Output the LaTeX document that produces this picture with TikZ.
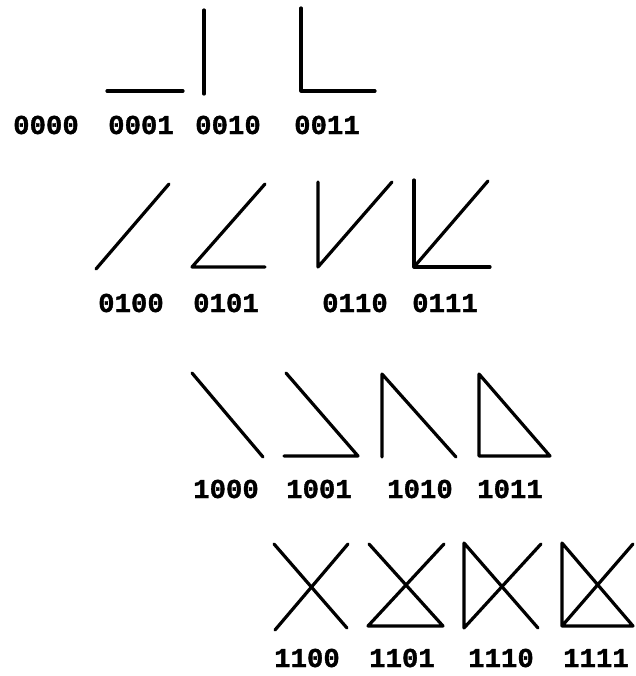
\documentclass[tikz,border=0pt]{standalone}
\usepackage{fontspec}
\newfontfamily\codefont[FakeBold=1.2]{Liberation Mono Bold}
\begin{document}
\begin{tikzpicture}[x=0.75pt,y=-0.75pt,
  seg/.style={line width=2.4pt,line cap=round,line join=round},
  code/.style={font=\codefont\fontsize{20.5}{20.5}\selectfont,inner sep=0pt,anchor=center}]
\useasboundingbox[fill=white] (0,0) rectangle (636,676);
% row 1
\draw[seg] (107,91) -- (183,91);
\draw[seg] (204,10) -- (204,94);
\draw[seg] (301,8) -- (301,91) -- (375,91);
\node[code] (l0000) at (46,125) {0000};
\node[code] (l0001) at (141,125) {0001};
\node[code] (l0010) at (228,125) {0010};
\node[code] (l0011) at (327,125) {0011};
% row 2
\draw[seg] (96,269) -- (169,184);
\draw[seg] (265,184) -- (192,267) -- (265,267);
\draw[seg] (318,182) -- (318,267) -- (392,182);
\draw[seg] (414,180) -- (414,267) -- (490,267);
\draw[seg] (414,267) -- (488,181);
\node[code] (l0100) at (131,303) {0100};
\node[code] (l0101) at (226,303) {0101};
\node[code] (l0110) at (355,303) {0110};
\node[code] (l0111) at (445,303) {0111};
% row 3
\draw[seg] (192,373) -- (263,457);
\draw[seg] (286,373) -- (358,456) -- (284,456);
\draw[seg] (382,457) -- (382,374) -- (456,457);
\draw[seg] (479,374) -- (550,456) -- (479,456) -- cycle;
\node[code] (l1000) at (226,489) {1000};
\node[code] (l1001) at (319,489) {1001};
\node[code] (l1010) at (420,489) {1010};
\node[code] (l1011) at (510,489) {1011};
% row 4
\draw[seg] (274,544) -- (347,628);
\draw[seg] (348,544) -- (275,630);
\draw[seg] (369,544) -- (443,626) -- (368,626) -- (444,544);
\draw[seg] (538,628) -- (464,543) -- (464,628) -- (541,544);
\draw[seg] (633,544) -- (562,626) -- (633,626) -- (562,543) -- (562,626);
\node[code] (l1100) at (307,658) {1100};
\node[code] (l1101) at (402,658) {1101};
\node[code] (l1110) at (501,658) {1110};
\node[code] (l1111) at (596,658) {1111};
\end{tikzpicture}
\end{document}
